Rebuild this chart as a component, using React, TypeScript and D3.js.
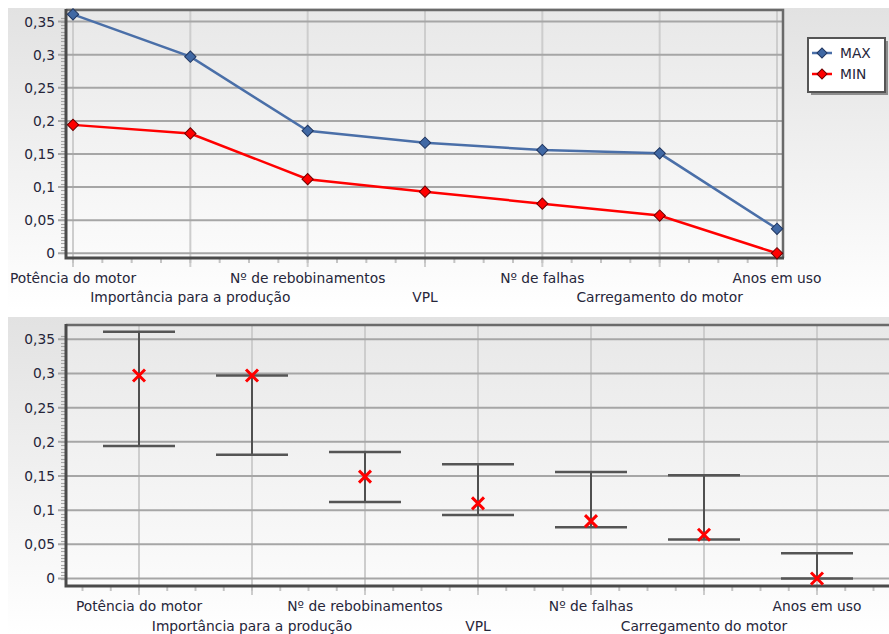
import * as React from 'react'
import { useEffect, useRef } from 'react'
import * as d3 from 'd3'

const categories = [
  'Potência do motor',
  'Importância para a produção',
  'Nº de rebobinamentos',
  'VPL',
  'Nº de falhas',
  'Carregamento do motor',
  'Anos em uso',
]
const maxValues = [0.361, 0.297, 0.185, 0.167, 0.156, 0.151, 0.037]
const minValues = [0.194, 0.181, 0.112, 0.093, 0.075, 0.057, 0]
const pointValues = [0.297, 0.297, 0.149, 0.11, 0.084, 0.064, 0]
const yTicks = [0, 0.05, 0.1, 0.15, 0.2, 0.25, 0.3, 0.35]
const seriesNames = ['MAX', 'MIN']

const W = 889
const H = 634
const FONT = '"DejaVu Sans", Verdana, sans-serif'
const FONT_SIZE = 13.8
const TEXT = '#26263a'

const ptBr = d3.formatLocale({ decimal: ',', thousands: '.', grouping: [3], currency: ['', ''] })
const fmt = ptBr.format('.2~f')

interface Frame {
  left: number
  top: number
  right: number
  bottom: number
}

// axes, grid, ticks and category labels shared by both panels
function drawFrame(
  g: d3.Selection<SVGGElement, unknown, null, undefined>,
  frame: Frame,
  x: (i: number) => number,
  step: number,
  firstMinor: number,
  y: d3.ScaleLinear<number, number>,
  labelRows: [number, number],
  plotFill: string,
) {
  g.append('rect')
    .attr('x', frame.left)
    .attr('y', frame.top)
    .attr('width', frame.right - frame.left)
    .attr('height', frame.bottom - frame.top)
    .attr('fill', plotFill)

  // vertical grid at categories (extends below axis as major tick)
  g.selectAll('line.vgrid')
    .data(categories.map((_, i) => i))
    .join('line')
    .attr('class', 'vgrid')
    .attr('x1', d => x(d))
    .attr('x2', d => x(d))
    .attr('y1', frame.top)
    .attr('y2', frame.bottom + 9)
    .attr('stroke', '#cdcdcd')
    .attr('stroke-width', 2)

  // horizontal grid
  g.selectAll('line.hgrid')
    .data(yTicks)
    .join('line')
    .attr('class', 'hgrid')
    .attr('x1', frame.left - 8)
    .attr('x2', frame.right)
    .attr('y1', d => y(d))
    .attr('y2', d => y(d))
    .attr('stroke', '#a6a6a6')
    .attr('stroke-width', 2)

  // y minor ticks
  const minorY = d3.range(0, 0.3551, 0.005)
  g.selectAll('line.yminor')
    .data(minorY)
    .join('line')
    .attr('class', 'yminor')
    .attr('x1', frame.left - 5)
    .attr('x2', frame.left)
    .attr('y1', d => Math.round(y(d)) + 0.5)
    .attr('y2', d => Math.round(y(d)) + 0.5)
    .attr('stroke', '#a8a8a8')
    .attr('stroke-width', 1.2)

  // x minor ticks
  const minorX: number[] = []
  for (let px = firstMinor; px < frame.right; px += step / 4) minorX.push(px)
  g.selectAll('line.xminor')
    .data(minorX)
    .join('line')
    .attr('class', 'xminor')
    .attr('x1', d => d)
    .attr('x2', d => d)
    .attr('y1', frame.bottom)
    .attr('y2', frame.bottom + 5)
    .attr('stroke', '#c4c4c4')
    .attr('stroke-width', 2)

  // border top / right
  g.append('path')
    .attr('d', `M${frame.left},${frame.top}H${frame.right}V${frame.bottom}`)
    .attr('fill', 'none')
    .attr('stroke', '#6a6a6a')
    .attr('stroke-width', 2.5)

  // axes
  g.append('path')
    .attr('d', `M${frame.left},${frame.top - 1}V${frame.bottom}H${frame.right + 1}`)
    .attr('fill', 'none')
    .attr('stroke', '#4a4a4a')
    .attr('stroke-width', 3)

  // y labels
  g.selectAll('text.ylab')
    .data(yTicks)
    .join('text')
    .attr('class', 'ylab')
    .attr('x', frame.left - 11)
    .attr('y', d => y(d))
    .attr('dy', '0.36em')
    .attr('text-anchor', 'end')
    .attr('font-family', FONT)
    .attr('font-size', FONT_SIZE)
    .attr('fill', TEXT)
    .text(d => fmt(d))

  // category labels, staggered
  g.selectAll('text.xlab')
    .data(categories)
    .join('text')
    .attr('class', 'xlab')
    .attr('x', (_, i) => x(i))
    .attr('y', (_, i) => labelRows[i % 2])
    .attr('dy', '0.36em')
    .attr('text-anchor', 'middle')
    .attr('font-family', FONT)
    .attr('font-size', FONT_SIZE)
    .attr('fill', TEXT)
    .text(d => d)
}

export default function App() {
  const svgRef = useRef<SVGSVGElement>(null)

  useEffect(() => {
    if (!svgRef.current) return
    const svg = d3.select(svgRef.current)
    svg.selectAll('*').remove()

    const defs = svg.append('defs')
    const panelGrad = defs.append('linearGradient')
      .attr('id', 'panelGrad').attr('x1', 0).attr('y1', 0).attr('x2', 0).attr('y2', 1)
    panelGrad.append('stop').attr('offset', '0%').attr('stop-color', '#e2e2e2')
    panelGrad.append('stop').attr('offset', '100%').attr('stop-color', '#ffffff')
    const plotGrad = defs.append('linearGradient')
      .attr('id', 'plotGrad').attr('x1', 0).attr('y1', 0).attr('x2', 0).attr('y2', 1)
    plotGrad.append('stop').attr('offset', '0%').attr('stop-color', '#e8e8e8')
    plotGrad.append('stop').attr('offset', '100%').attr('stop-color', '#fbfbfb')

    svg.append('rect').attr('width', W).attr('height', H).attr('fill', '#fff')
    svg.append('rect').attr('x', 8).attr('y', 8).attr('width', W - 8).attr('height', 302)
      .attr('fill', 'url(#panelGrad)')
    svg.append('rect').attr('x', 8).attr('y', 317).attr('width', W - 8).attr('height', H - 317)
      .attr('fill', 'url(#panelGrad)')

    // ---------- top: line chart ----------
    const topFrame = { left: 66, top: 10, right: 783, bottom: 258 }
    const xTop = d3.scalePoint<number>().domain(categories.map((_, i) => i)).range([73, 777])
    const yTop = d3.scaleLinear().domain([0, 0.35]).range([253.3, 21.6])
    const gTop = svg.append('g')
    drawFrame(gTop, topFrame, i => xTop(i) as number, xTop.step(), 73, yTop, [278, 297], 'url(#plotGrad)')

    const series = [
      { name: seriesNames[0], values: maxValues, color: '#4a6fa8', fill: '#4068a4', stroke: '#203660' },
      { name: seriesNames[1], values: minValues, color: '#ff0000', fill: '#ff0000', stroke: '#6e0000' },
    ]
    const line = d3.line<number>()
      .x((_, i) => xTop(i) as number)
      .y(d => yTop(d))
    const diamondPath = d3.symbol().type(d3.symbolSquare).size(64)() as string

    series.forEach(s => {
      gTop.append('path')
        .attr('d', line(s.values))
        .attr('fill', 'none')
        .attr('stroke', s.color)
        .attr('stroke-width', 2.5)
      gTop.selectAll(null)
        .data(s.values)
        .join('path')
        .attr('transform', (d, i) => `translate(${xTop(i)},${yTop(d)}) rotate(45)`)
        .attr('d', diamondPath)
        .attr('fill', s.fill)
        .attr('stroke', s.stroke)
        .attr('stroke-width', 1)
    })

    // legend
    const legend = svg.append('g').attr('transform', 'translate(808,38)')
    legend.append('rect').attr('x', 3).attr('y', 3).attr('width', 77).attr('height', 54)
      .attr('fill', '#8e8e8e')
    legend.append('rect').attr('width', 77).attr('height', 54)
      .attr('fill', '#fff').attr('stroke', '#555').attr('stroke-width', 2)
    series.forEach((s, i) => {
      const ly = 15 + i * 21
      legend.append('line').attr('x1', 4).attr('x2', 24).attr('y1', ly).attr('y2', ly)
        .attr('stroke', s.color).attr('stroke-width', 2.5)
      legend.append('path')
        .attr('transform', `translate(14,${ly}) rotate(45)`)
        .attr('d', d3.symbol().type(d3.symbolSquare).size(50)() as string)
        .attr('fill', s.fill).attr('stroke', s.stroke).attr('stroke-width', 1)
      legend.append('text').attr('x', 32).attr('y', ly).attr('dy', '0.36em')
        .attr('font-family', FONT).attr('font-size', FONT_SIZE).attr('fill', TEXT)
        .text(s.name)
    })

    // ---------- bottom: range chart ----------
    const botFrame = { left: 66, top: 325, right: 895, bottom: 586 }
    const xBot = d3.scaleLinear().domain([0, categories.length - 1]).range([139, 817])
    const yBot = d3.scaleLinear().domain([0, 0.35]).range([578.5, 339.3])
    const stepBot = xBot(1) - xBot(0)
    const gBot = svg.append('g')
    drawFrame(gBot, botFrame, i => xBot(i), stepBot, 139 - stepBot / 2, yBot, [606, 626], 'url(#plotGrad)')

    const capHalf = 36
    const bars = gBot.selectAll('g.bar')
      .data(categories.map((_, i) => i))
      .join('g')
      .attr('class', 'bar')
    bars.append('line')
      .attr('x1', i => xBot(i)).attr('x2', i => xBot(i))
      .attr('y1', i => yBot(maxValues[i])).attr('y2', i => yBot(minValues[i]))
      .attr('stroke', '#505050').attr('stroke-width', 2)
    bars.append('line')
      .attr('x1', i => xBot(i) - capHalf).attr('x2', i => xBot(i) + capHalf)
      .attr('y1', i => yBot(maxValues[i])).attr('y2', i => yBot(maxValues[i]))
      .attr('stroke', '#555').attr('stroke-width', 2.5)
    bars.append('line')
      .attr('x1', i => xBot(i) - capHalf).attr('x2', i => xBot(i) + capHalf)
      .attr('y1', i => yBot(minValues[i])).attr('y2', i => yBot(minValues[i]))
      .attr('stroke', '#555').attr('stroke-width', 2.5)
    bars.append('path')
      .attr('transform', i => `translate(${xBot(i)},${yBot(pointValues[i])})`)
      .attr('d', 'M-6,-6L6,6M-6,6L6,-6')
      .attr('stroke', '#ff0000').attr('stroke-width', 3)
      .attr('fill', 'none')
  }, [])

  return (
    <svg
      ref={svgRef}
      width={W}
      height={H}
      style={{ position: 'absolute', left: 0, top: 0, display: 'block' }}
    />
  )
}
